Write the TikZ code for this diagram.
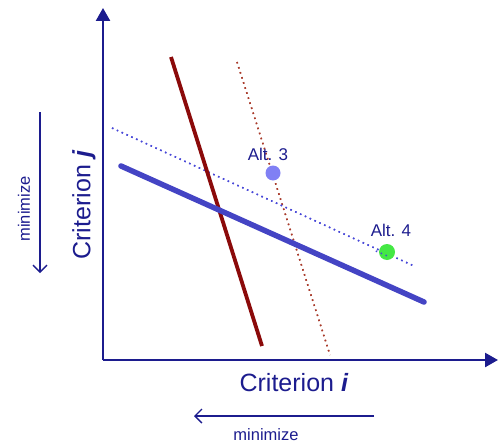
\documentclass[tikz,border=0pt]{standalone}
\usepackage{fontspec}
\setmainfont{Liberation Sans}
\usetikzlibrary{arrows.meta}
\definecolor{navy}{HTML}{1C1C8E}
\definecolor{lineblue}{HTML}{4444C4}
\definecolor{darkred}{HTML}{8B0A0A}
\definecolor{dotred}{HTML}{A83A2A}
\definecolor{dotblue}{HTML}{4848D8}
\definecolor{alt3}{HTML}{8080F4}
\definecolor{alt4}{HTML}{44E844}
\tikzset{
  axis/.style={navy, line width=2.5pt, -{Triangle[length=13pt,width=14pt]}},
  minarrow/.style={navy, line width=1.4pt, -{Straight Barb[length=7pt,width=14pt,line width=1.4pt]}},
  biglabel/.style={navy, font=\fontsize{25}{28}\selectfont, inner sep=0pt},
  smalllabel/.style={navy, font=\fontsize{16.5}{19}\selectfont, inner sep=0pt},
  altlabel/.style={navy, font=\fontsize{17}{20}\selectfont, inner sep=0pt},
  dotline/.style={line width=1.5pt, dash pattern=on 1.5pt off 3.8pt},
}
\begin{document}
\begin{tikzpicture}[x=1pt,y=-1pt]
\useasboundingbox (0,0) rectangle (500,444);
\coordinate (O) at (103,360);
\coordinate (Ytip) at (103,8);
\coordinate (Xtip) at (498,360);
% dotted lines
\coordinate (rd1) at (237,62);
\coordinate (rd2) at (330,355);
\coordinate (bd1) at (112,128);
\coordinate (bd2) at (414,266);
\draw[dotline, dotred] (rd1) -- (rd2);
\draw[dotline, dotred, xshift=1.8pt] (rd1) -- (rd2);
\draw[dotline, dotblue] (bd1) -- (bd2);
\draw[dotline, dotblue, yshift=-2pt, xshift=1pt] (bd1) -- (bd2);
% solid lines
\coordinate (r1) at (171,57);
\coordinate (r2) at (262,346);
\coordinate (b1) at (121,166);
\coordinate (b2) at (424,302);
\draw[darkred, line width=3.8pt] (r1) -- (r2);
\draw[lineblue, line width=5.5pt, line cap=round] (b1) -- (b2);
% alternatives
\node[circle, fill=alt3, minimum size=15pt, inner sep=0pt] (a3) at (273,173) {};
\node[circle, fill=alt4, minimum size=16pt, inner sep=0pt] (a4) at (387,252) {};
\draw[dotline, dotblue] (a4.west) ++(-3,-1) -- ++(14,6);
\node[altlabel] (a3l) at (268,154) {Alt. 3};
\node[altlabel] (a4l) at (391,230) {Alt. 4};
% axes
\draw[axis] (O) -- (Ytip);
\draw[axis] (O) -- (Xtip);
\node[biglabel, rotate=90] (cj) at (84,205) {Criterion \textbf{\textit{j}}};
\node[biglabel] (ci) at (294,383) {Criterion \textbf{\textit{i}}};
% minimize arrows
\coordinate (la1) at (40,112);
\coordinate (la2) at (40,273);
\draw[minarrow] (la1) -- (la2);
\node[smalllabel, rotate=90] (ml) at (24,209) {minimize};
\coordinate (ba1) at (374,416);
\coordinate (ba2) at (194,416);
\draw[minarrow] (ba1) -- (ba2);
\node[smalllabel] (mb) at (266,435) {minimize};
\end{tikzpicture}
\end{document}
